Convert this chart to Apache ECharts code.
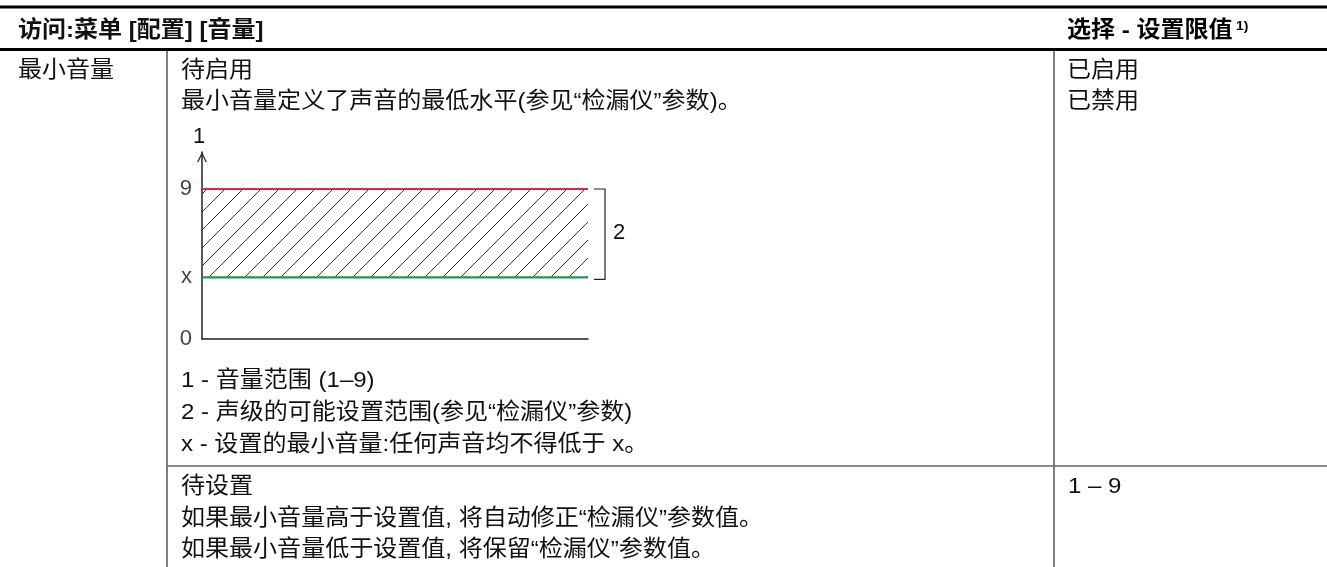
<!DOCTYPE html>
<html><head><meta charset="utf-8">
<script src="https://cdn.jsdelivr.net/npm/echarts@6/dist/echarts.min.js"></script>
<style>html,body{margin:0;padding:0;background:#fff}#c{width:1327px;height:567px}</style>
</head><body><div id="c"></div>
<script>
// ---------- data ----------
const levelLabels = ['0', 'x', '9'];
const levelValues = [0, 3.7, 9];
const minVolume = 3.7;   // "x"
const maxVolume = 9;
const axisTitle = '1';
const rangeLabel = '2';
const headerLeft = '访问:菜单 [配置] [音量]';
const headerRight = '选择 - 设置限值';
const headerSup = '1)';
const rowLabel = '最小音量';
const row1Lines = ['待启用', '最小音量定义了声音的最低水平(参见“检漏仪”参数)。'];
const legendLines = ['1 - 音量范围 (1–9)', '2 - 声级的可能设置范围(参见“检漏仪”参数)', 'x - 设置的最小音量:任何声音均不得低于 x。'];
const row1Options = ['已启用', '已禁用'];
const row2Lines = ['待设置', '如果最小音量高于设置值, 将自动修正“检漏仪”参数值。', '如果最小音量低于设置值, 将保留“检漏仪”参数值。'];
const row2Options = ['1 – 9'];

// ---------- style ----------
const FF = '"Liberation Sans", Arial, "Noto Sans CJK SC", sans-serif';
const FS = 22.5;
const HFS = 22.5;
const SX = 1.068;          // horizontal stretch of the document text
const TXT = '#111';
const RED = '#e1253f';
const GREEN = '#1e9a48';

function hatchCanvas() {
  const s = 18, c = document.createElement('canvas');
  c.width = s; c.height = s;
  const g = c.getContext('2d');
  g.strokeStyle = '#222'; g.lineWidth = 0.9;
  g.beginPath();
  g.moveTo(-1, s + 1); g.lineTo(s + 1, -1);
  g.moveTo(-1, 1); g.lineTo(1, -1);
  g.moveTo(s - 1, s + 1); g.lineTo(s + 1, s - 1);
  g.stroke();
  return c;
}

function txt(text, x, y, font) {
  return {
    type: 'text', silent: true, x: x, y: y, scaleX: SX, scaleY: 1,
    style: { text: text, x: 0, y: 0, fill: TXT, font: font || (FS + 'px ' + FF), verticalAlign: 'middle', textAlign: 'left' }
  };
}
function hline(x1, x2, y, w, c) {
  return { type: 'line', silent: true, shape: { x1: x1, y1: y, x2: x2, y2: y }, style: { stroke: c, lineWidth: w } };
}
function vline(x, y1, y2, w, c) {
  return { type: 'line', silent: true, shape: { x1: x, y1: y1, x2: x, y2: y2 }, style: { stroke: c, lineWidth: w } };
}

const COL1 = 18, COL2 = 181, COL3 = 1067;
const graphics = [
  hline(0, 1327, 7, 3, '#000'),
  hline(0, 1327, 49.5, 3, '#000'),
  vline(167, 51, 567, 1.5, '#555'),
  vline(1054, 51, 567, 1.5, '#555'),
  hline(167, 1327, 466, 1.5, '#666'),
  txt(headerLeft, COL1, 31, 'bold ' + HFS + 'px ' + FF),
  {
    type: 'text', silent: true, x: COL3, y: 31, scaleX: SX, scaleY: 1,
    style: {
      text: '{b|' + headerRight + '} {s|' + headerSup + '}', x: 0, y: 0,
      verticalAlign: 'middle', fill: '#000',
      rich: {
        b: { fontSize: HFS, fontWeight: 'bold', fontFamily: FF, fill: '#000' },
        s: { fontSize: 13, fontWeight: 'bold', fontFamily: FF, fill: '#000', verticalAlign: 'top' }
      }
    }
  },
  txt(rowLabel, COL1, 71)
];
const row1Y = [71, 102];
row1Lines.forEach((t, i) => graphics.push(txt(t, COL2, row1Y[i])));
row1Options.forEach((t, i) => graphics.push(txt(t, COL3, row1Y[i])));
const legendY = [381, 413, 445];
legendLines.forEach((t, i) => graphics.push(txt(t, COL2, legendY[i])));
const row2Y = [487, 519, 550];
row2Lines.forEach((t, i) => graphics.push(txt(t, COL2, row2Y[i])));
row2Options.forEach((t, i) => graphics.push(txt(t, COL3 + 1, row2Y[i])));

const chart = echarts.init(document.getElementById('c'), null, { renderer: 'canvas' });
chart.setOption({
  animation: false,
  backgroundColor: '#fff',
  graphic: graphics,
  grid: { left: 202, top: 152, right: 739, bottom: 228, containLabel: false },
  xAxis: {
    type: 'value', min: 0, max: 1,
    axisLine: { show: true, lineStyle: { color: '#222', width: 1.5 } },
    axisTick: { show: false }, axisLabel: { show: false }, splitLine: { show: false }
  },
  yAxis: {
    type: 'value', min: 0, max: 11.22,
    name: axisTitle, nameLocation: 'end', nameGap: 4,
    nameTextStyle: { color: TXT, fontSize: 22, fontFamily: FF, padding: [0, 6, 0, 0] },
    axisLine: {
      show: true, lineStyle: { color: '#222', width: 1.5 },
      symbol: ['none', 'path://M0,10 L5,0 L10,10 L8.6,10 L5,2.8 L1.4,10 Z'],
      symbolSize: [10, 10], symbolOffset: [0, -5]
    },
    axisTick: { show: false }, axisLabel: { show: false }, splitLine: { show: false }
  },
  series: [
    {
      type: 'line', name: 'max', data: [[0, maxVolume], [1, maxVolume]],
      symbol: 'none', lineStyle: { color: RED, width: 2.2 }, z: 5, silent: true
    },
    {
      type: 'line', name: 'min', data: [[0, minVolume], [1, minVolume]],
      symbol: 'none', lineStyle: { color: GREEN, width: 2.2 }, z: 5, silent: true,
      markArea: {
        silent: true,
        itemStyle: { color: { image: hatchCanvas(), repeat: 'repeat' } },
        data: [[{ yAxis: minVolume }, { yAxis: maxVolume }]]
      }
    },
    {
      type: 'scatter', symbolSize: 0, silent: true,
      data: levelValues.map((v, i) => ({ value: [0, v], name: levelLabels[i] })),
      label: {
        show: true, position: 'left', distance: 10, formatter: p => p.name,
        color: TXT, fontSize: 22, fontFamily: FF
      }
    },
    {
      type: 'custom', clip: false, silent: true,
      data: [[1, minVolume, maxVolume]],
      renderItem: function (params, api) {
        const top = api.coord([api.value(0), api.value(2)]);
        const bot = api.coord([api.value(0), api.value(1)]);
        const x0 = top[0] + 6, x1 = top[0] + 17;
        return {
          type: 'group', children: [
            { type: 'polyline', shape: { points: [[x0, top[1]], [x1, top[1]], [x1, bot[1] + 2], [x0, bot[1] + 2]] },
              style: { stroke: '#222', lineWidth: 1.2, fill: null } },
            { type: 'text', style: { text: rangeLabel, x: x1 + 8, y: (top[1] + bot[1]) / 2, verticalAlign: 'middle',
              fill: TXT, font: '22px ' + FF } }
          ]
        };
      }
    }
  ]
});
</script>
</body></html>
